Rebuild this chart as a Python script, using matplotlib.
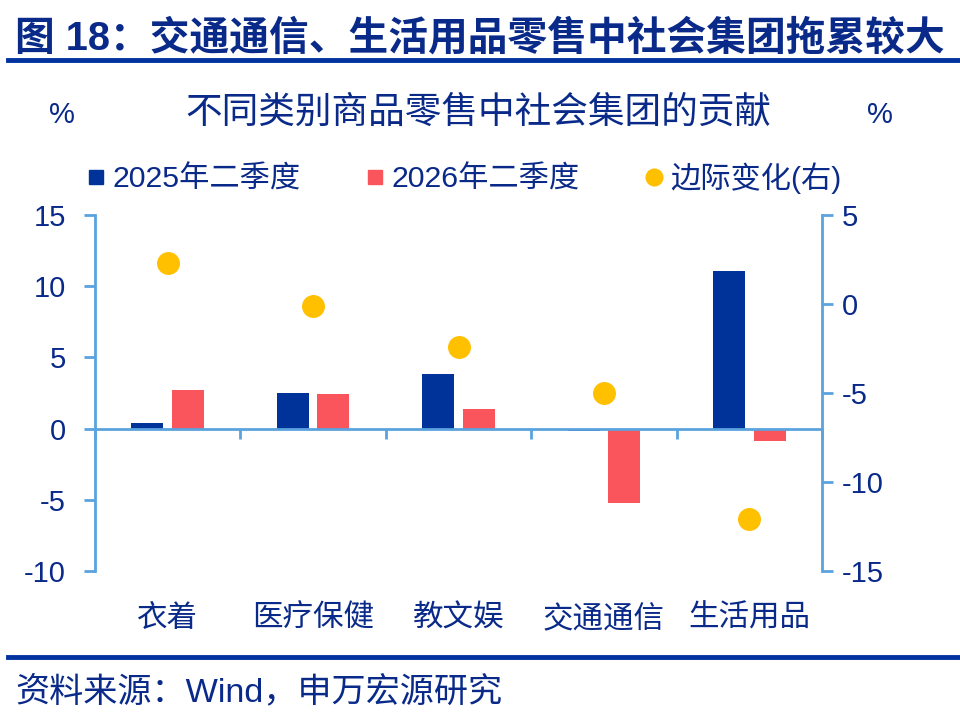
import matplotlib.pyplot as plt
from matplotlib.lines import Line2D
import numpy as np

plt.rcParams['font.family'] = ['Liberation Sans', 'Noto Sans CJK SC', 'DejaVu Sans']
plt.rcParams['axes.unicode_minus'] = False

categories = ['衣着', '医疗保健', '教文娱', '交通通信', '生活用品']
q2_2025 = [0.4, 2.5, 3.8, -0.2, 11.1]
q2_2026 = [2.7, 2.4, 1.4, -5.2, -0.9]
change = [2.3, -0.1, -2.4, -5.0, -12.1]

navy = '#0A2A8A'
blue = '#003399'
red = '#FA555C'
yellow = '#FFC000'
axis_c = '#5BA3DE'

fig = plt.figure(figsize=(9.6, 7.24), dpi=100)
ax = fig.add_axes([95/960, 1-571/724, 727/960, 356/724])
ax2 = ax.twinx()

x = np.arange(len(categories))
ax.bar(x - 0.14, q2_2025, width=0.22, color=blue, zorder=2)
ax.bar(x + 0.14, q2_2026, width=0.22, color=red, zorder=2)
ax2.plot(x, change, 'o', ms=15.5, color=yellow, linestyle='none')

ax.set_xlim(-0.5, 4.5)
ax.set_ylim(-10, 15)
ax.set_yticks(np.arange(-10, 16, 5))
ax2.set_ylim(-15, 5)
ax2.set_yticks(np.arange(-15, 6, 5))

for s in ['top', 'right']:
    ax.spines[s].set_visible(False)
for s in ['top', 'left', 'bottom']:
    ax2.spines[s].set_visible(False)
ax.spines['bottom'].set_position(('data', 0))
ax.spines['bottom'].set_color(axis_c)
ax.spines['bottom'].set_linewidth(2)
ax.spines['left'].set_color(axis_c)
ax.spines['left'].set_linewidth(2)
ax2.spines['right'].set_color(axis_c)
ax2.spines['right'].set_linewidth(2)

ax.set_xticks([])
ax.set_xticks(np.arange(-0.5, 5, 1), minor=True)
ax.tick_params(axis='x', which='minor', direction='out', length=7, width=2, color=axis_c)
ax.tick_params(axis='y', direction='out', length=8, width=2, color=axis_c,
               labelsize=21, labelcolor=navy, pad=13)
ax2.tick_params(axis='y', direction='out', length=8, width=2, color=axis_c,
                labelsize=21, labelcolor=navy, pad=6)

for i, c in enumerate(categories):
    ax.text(i, -0.135, c, transform=ax.get_xaxis_transform(), ha='center', va='center',
            fontsize=22, color=navy)

handles = [Line2D([], [], marker='s', ls='none', ms=10, color=blue),
           Line2D([], [], marker='s', ls='none', ms=10, color=red),
           Line2D([], [], marker='o', ls='none', ms=12, color=yellow)]
fig.legend(handles, ['2025年二季度', '2026年二季度', '边际变化(右)'], ncol=3,
           loc='center left', bbox_to_anchor=(85/960, 1-178/724), frameon=False,
           fontsize=21.8, labelcolor=navy, handlelength=0.7, handletextpad=0.2,
           columnspacing=2.1, borderpad=0, borderaxespad=0)

fig.text(15/960, 1-38/724, '图 18：交通通信、生活用品零售中社会集团拖累较大', fontsize=28.6,
         fontweight='bold', color=navy, ha='left', va='center')
fig.add_artist(Line2D([8/960, 1], [1-60/724]*2, transform=fig.transFigure, color='#0033A0', lw=3.5))
fig.text(478/960, 1-113/724, '不同类别商品零售中社会集团的贡献', fontsize=26.4, color=navy,
         ha='center', va='center')
fig.text(62/960, 1-115/724, '%', fontsize=21, color=navy, ha='center', va='center')
fig.text(880/960, 1-115/724, '%', fontsize=21, color=navy, ha='center', va='center')
fig.add_artist(Line2D([8/960, 1], [1-657/724]*2, transform=fig.transFigure, color='#0033A0', lw=3.5))
fig.text(15/960, 1-692/724, '资料来源：Wind，申万宏源研究', fontsize=24.6, color=navy,
         ha='left', va='center')

fig.savefig('out.png', dpi=100)
